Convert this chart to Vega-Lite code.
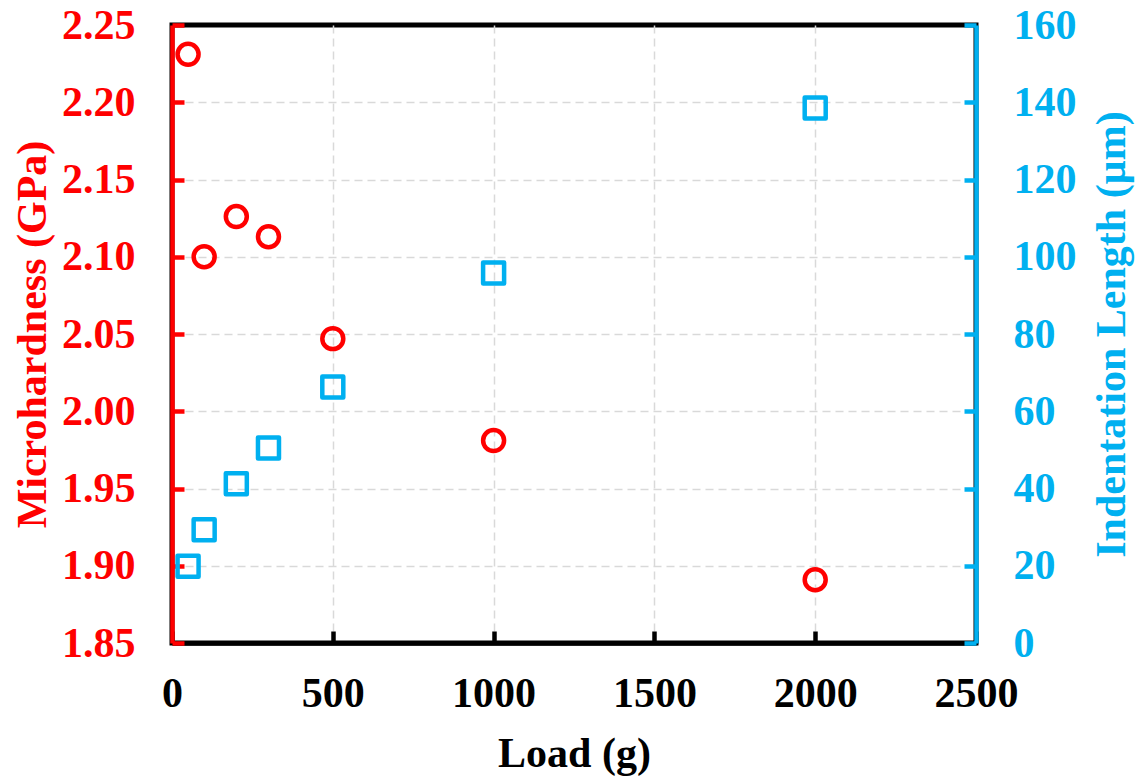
{
  "$schema": "https://vega.github.io/schema/vega-lite/v6.json",
  "width": 804,
  "height": 618,
  "autosize": {"type": "none"},
  "padding": {"left": 172, "top": 25, "right": 162, "bottom": 135},
  "background": "white",
  "config": {
    "font": "Liberation Serif",
    "view": {"stroke": "black", "strokeWidth": 5},
    "style": {"cell": {"stroke": "black", "strokeWidth": 5}},
    "axis": {
      "labelFont": "Liberation Serif",
      "titleFont": "Liberation Serif",
      "labelFontSize": 42,
      "titleFontSize": 42,
      "labelFontWeight": "bold",
      "titleFontWeight": "bold",
      "domainWidth": 4.5,
      "tickWidth": 4.5,
      "tickSize": -12,
      "gridColor": "#d9d9d9",
      "gridDash": [8, 5],
      "gridWidth": 1.5,
      "labelOverlap": false
    }
  },
  "data": {
    "values": [
      {"load": 50, "hardness": 2.231, "length": 19.9},
      {"load": 100, "hardness": 2.100, "length": 29.3},
      {"load": 200, "hardness": 2.126, "length": 41.2},
      {"load": 300, "hardness": 2.113, "length": 50.5},
      {"load": 500, "hardness": 2.047, "length": 66.3},
      {"load": 1000, "hardness": 1.981, "length": 95.8},
      {"load": 2000, "hardness": 1.891, "length": 138.5}
    ]
  },
  "encoding": {
    "x": {
      "field": "load",
      "type": "quantitative",
      "scale": {"domain": [0, 2500], "nice": false},
      "axis": {
        "title": "Load (g)",
        "values": [0, 500, 1000, 1500, 2000, 2500],
        "format": "d",
        "labelFlush": false,
        "labelPadding": 42,
        "domainColor": "black",
        "tickColor": "black",
        "labelColor": "black",
        "titleColor": "black",
        "titleY": 123,
        "titleBaseline": "alphabetic",
        "grid": true,
        "gridOpacity": {"condition": {"test": "datum.value <= 0 || datum.value >= 2500", "value": 0}, "value": 1}
      }
    }
  },
  "layer": [
    {
      "mark": {"type": "point", "shape": "circle", "filled": false, "stroke": "#ff0000", "strokeWidth": 4.5, "size": 440, "opacity": 1},
      "encoding": {
        "y": {
          "field": "hardness",
          "type": "quantitative",
          "scale": {"domain": [1.85, 2.25], "nice": false, "zero": false},
          "axis": {
            "title": "Microhardness (GPa)",
            "orient": "left",
            "values": [1.85, 1.9, 1.95, 2.0, 2.05, 2.1, 2.15, 2.2, 2.25],
            "format": ".2f",
            "labelPadding": 49,
            "domainColor": "#ff0000",
            "tickColor": "#ff0000",
            "labelColor": "#ff0000",
            "titleColor": "#ff0000",
            "titleAngle": -90,
            "titleX": -127,
            "titleY": 309,
            "titleAlign": "center",
            "titleBaseline": "alphabetic",
            "grid": true,
            "gridOpacity": {"condition": {"test": "datum.value <= 1.85 || datum.value >= 2.25", "value": 0}, "value": 1}
          }
        }
      }
    },
    {
      "mark": {"type": "point", "shape": "square", "filled": false, "stroke": "#00b0f0", "strokeWidth": 4.5, "strokeJoin": "round", "size": 441, "opacity": 1},
      "encoding": {
        "y": {
          "field": "length",
          "type": "quantitative",
          "scale": {"domain": [0, 160], "nice": false},
          "axis": {
            "title": "Indentation Length (µm)",
            "orient": "right",
            "values": [0, 20, 40, 60, 80, 100, 120, 140, 160],
            "labelPadding": 49,
            "domainColor": "#00b0f0",
            "tickColor": "#00b0f0",
            "labelColor": "#00b0f0",
            "titleColor": "#00b0f0",
            "titleAngle": -90,
            "titleX": 148,
            "titleY": 309,
            "titleAlign": "center",
            "titleBaseline": "alphabetic",
            "grid": false
          }
        }
      }
    }
  ],
  "resolve": {"scale": {"y": "independent"}}
}
